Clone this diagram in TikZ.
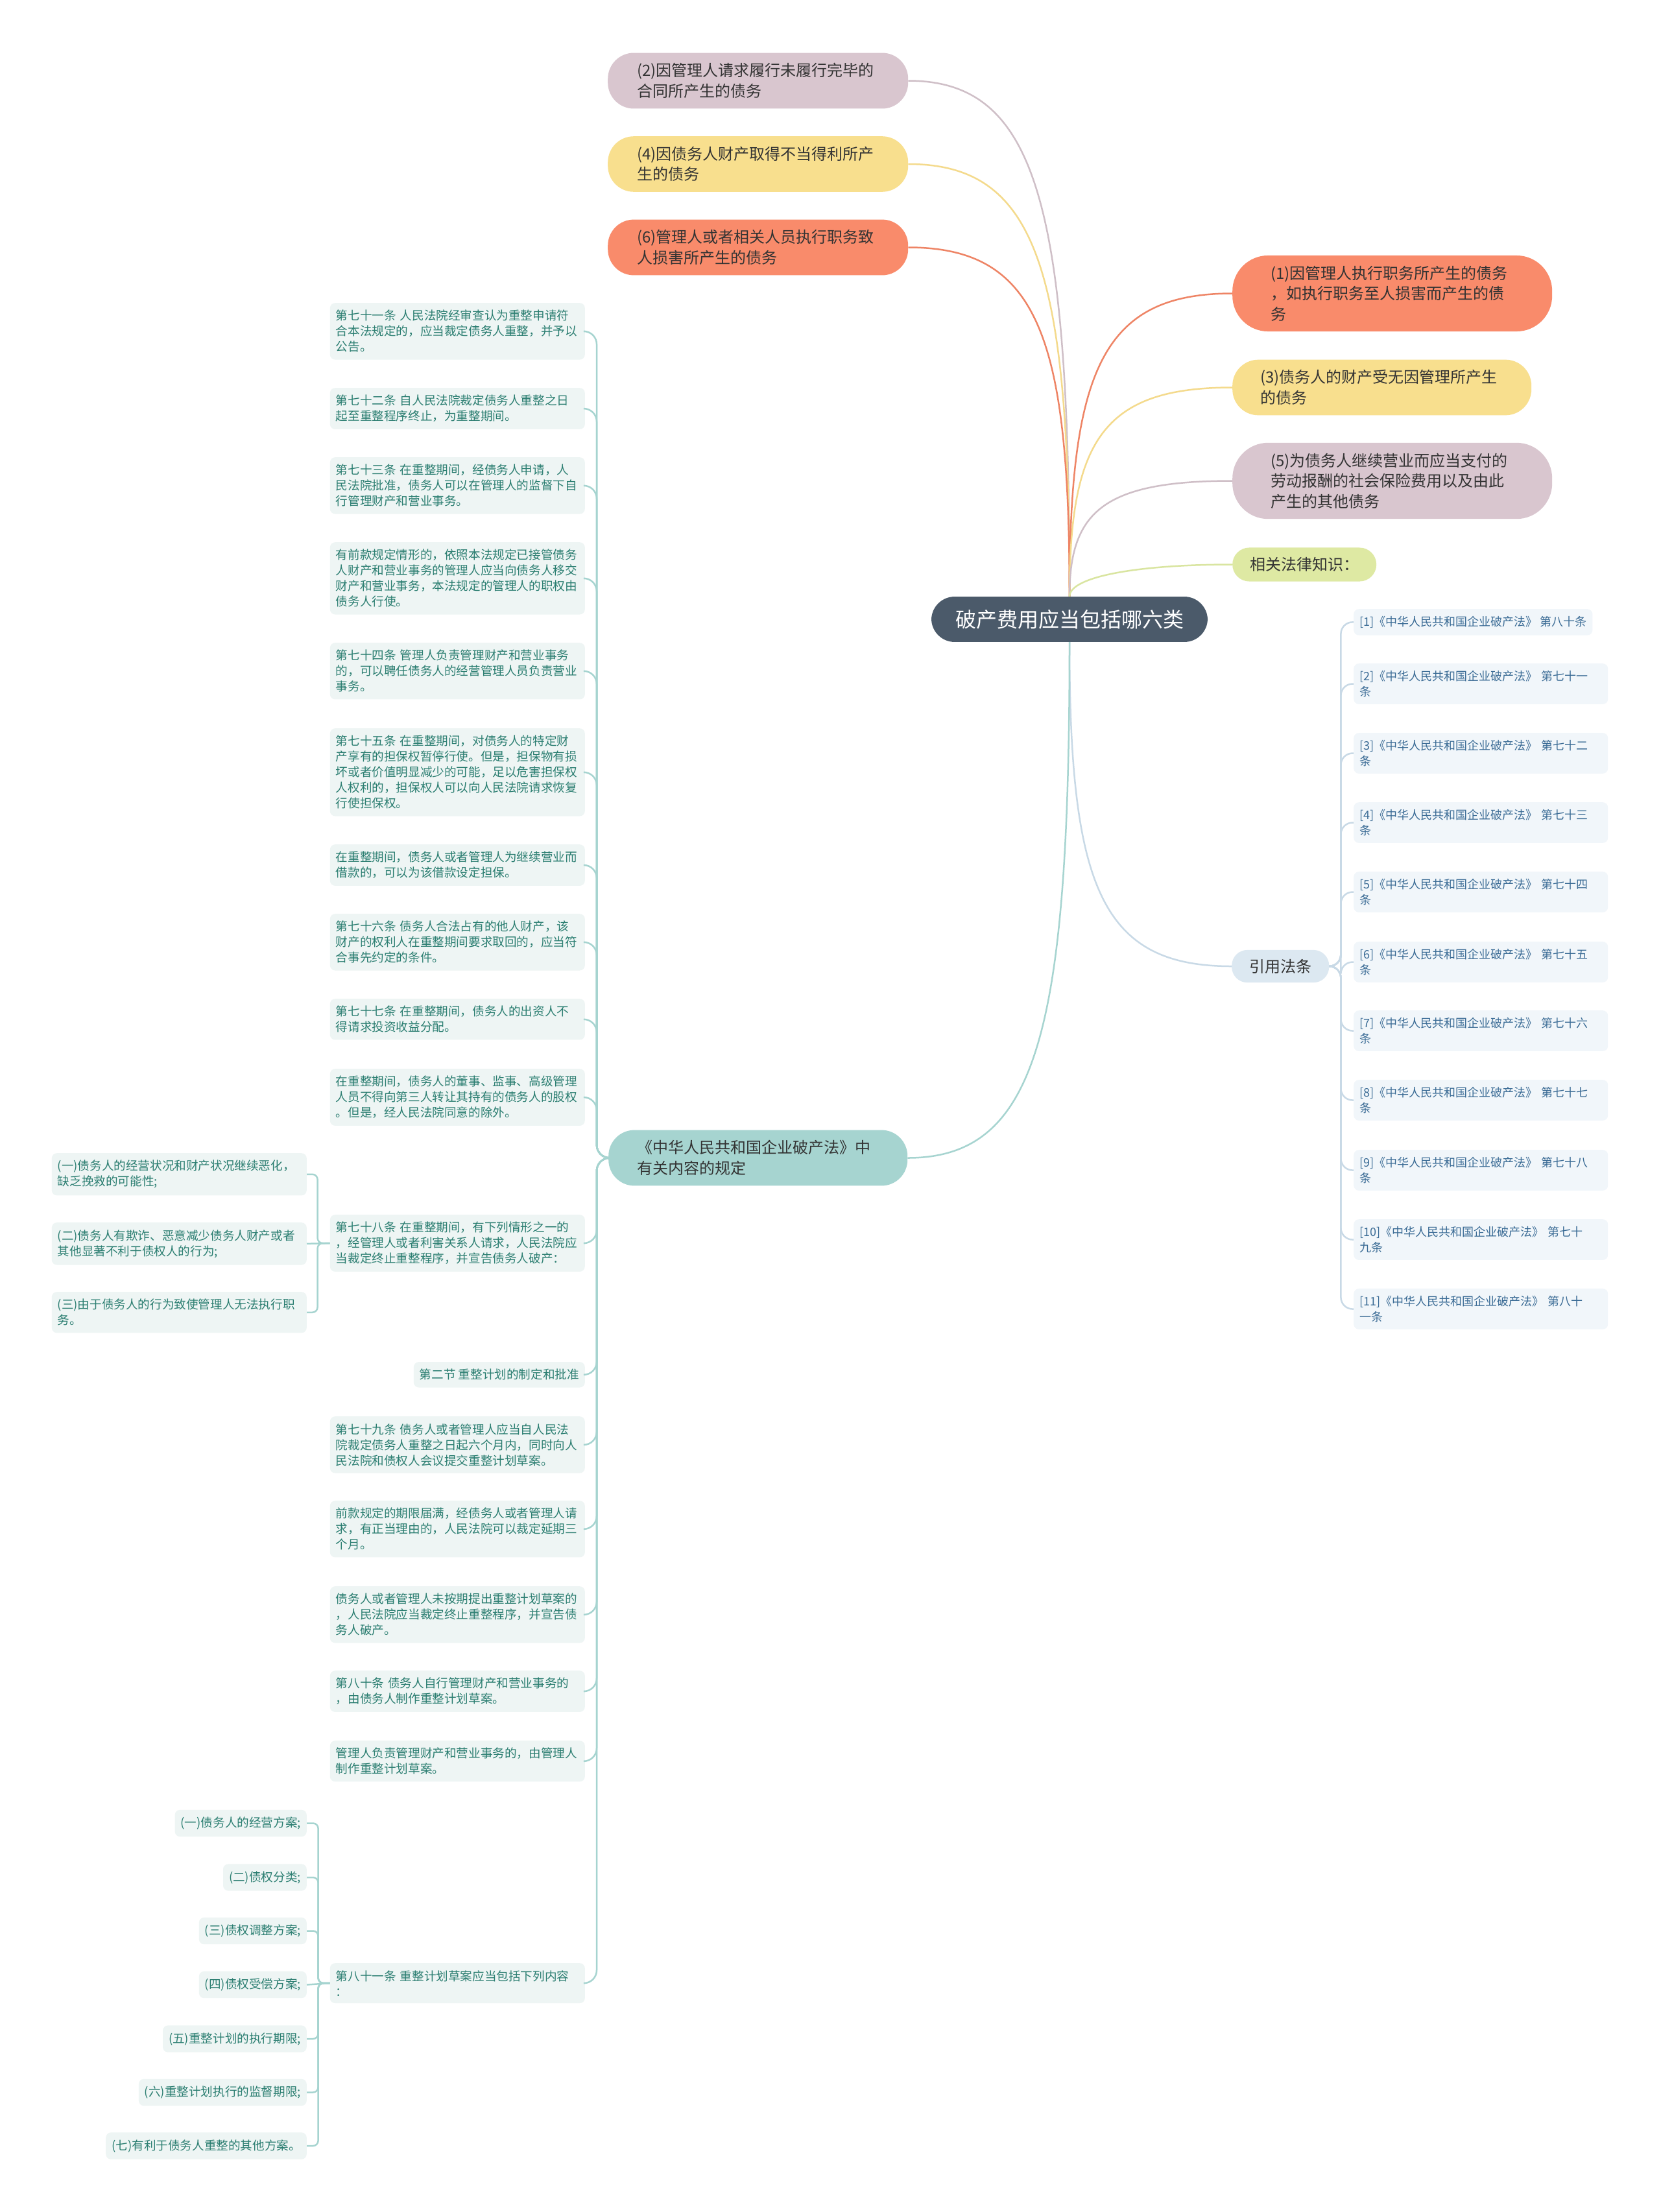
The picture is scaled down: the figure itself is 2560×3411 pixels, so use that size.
\documentclass[tikz,border=0pt]{standalone}
\usepackage{fontspec}
\setmainfont{Noto Sans CJK SC}
\usetikzlibrary{positioning,calc}

\definecolor{rootfill}{HTML}{4B5A6A}
\definecolor{orangefill}{HTML}{F98B6B}
\definecolor{orangeline}{HTML}{EE8465}
\definecolor{yellowfill}{HTML}{F8DF8E}
\definecolor{yellowline}{HTML}{F4DA8C}
\definecolor{mauvefill}{HTML}{D9C6CF}
\definecolor{mauveline}{HTML}{CFBFC7}
\definecolor{greenfill}{HTML}{DEE9A3}
\definecolor{greenline}{HTML}{D9E5A0}
\definecolor{tealfill}{HTML}{A6D4D0}
\definecolor{tealline}{HTML}{A6D4D0}
\definecolor{citefill}{HTML}{DCE8F1}
\definecolor{citeline}{HTML}{C8D9E6}
\definecolor{leaffill}{HTML}{EEF5F4}
\definecolor{leaftext}{HTML}{2B7E71}
\definecolor{reffill}{HTML}{F1F6FA}
\definecolor{reftext}{HTML}{3A6B95}
\definecolor{topictext}{HTML}{333333}

\begin{document}
\begin{tikzpicture}[x=1pt,y=-1pt,
  rootnode/.style={fill=rootfill,text=white,rounded corners=36pt,inner xsep=37pt,inner ysep=20pt,font=\fontsize{32}{38}\selectfont},
  topic/.style={text=topictext,align=left,inner ysep=16pt,font=\fontsize{24}{31.5}\selectfont},
  leafbox/.style={fill=leaffill,text=leaftext,rounded corners=8pt,align=left,inner xsep=9pt,inner ysep=11pt,font=\fontsize{18.6}{24}\selectfont},
  leaf/.style={leafbox,text width=375pt,anchor=north east},
  refbox/.style={fill=reffill,text=reftext,rounded corners=8pt,align=left,inner xsep=9pt,inner ysep=11pt,font=\fontsize{18}{24}\selectfont,anchor=north west},
  ref/.style={refbox,text width=374pt},
  branch/.style={line width=2.5pt},
  twig/.style={line width=2.5pt,tealline,rounded corners=20pt},
  citetwig/.style={line width=2.5pt,citeline,rounded corners=18pt}]
\fill[white] (0,0) rectangle (2560,3411);
\useasboundingbox (0,0) rectangle (2560,3411);

% centre and main topics
\node (root) [rootnode] at (1649,955) {破产费用应当包括哪六类};
\node (t2) [topic,fill=mauvefill,anchor=west,text width=373pt,inner xsep=45pt,rounded corners=40pt] at (937,124.5) {(2)因管理人请求履行未履行完毕的\\合同所产生的债务};
\node (t4) [topic,fill=yellowfill,anchor=west,text width=373pt,inner xsep=45pt,rounded corners=40pt] at (937,253) {(4)因债务人财产取得不当得利所产\\生的债务};
\node (t6) [topic,fill=orangefill,anchor=west,text width=373pt,inner xsep=45pt,rounded corners=40pt] at (937,381.5) {(6)管理人或者相关人员执行职务致\\人损害所产生的债务};
\node (t1) [topic,fill=orangefill,anchor=west,text width=375pt,inner xsep=59pt,rounded corners=55pt] at (1900,452.5) {(1)因管理人执行职务所产生的债务\\，如执行职务至人损害而产生的债\\务};
\node (t3) [topic,fill=yellowfill,anchor=west,text width=375pt,inner xsep=43pt,rounded corners=40pt] at (1900,597.5) {(3)债务人的财产受无因管理所产生\\的债务};
\node (t5) [topic,fill=mauvefill,anchor=west,text width=375pt,inner xsep=59pt,rounded corners=55pt] at (1900,741.5) {(5)为债务人继续营业而应当支付的\\劳动报酬的社会保险费用以及由此\\产生的其他债务};
\node (know) [topic,fill=greenfill,anchor=west,inner xsep=27pt,inner ysep=15pt,rounded corners=26pt] at (1900,870.5) {相关法律知识：};
\node (cite) [topic,fill=citefill,anchor=west,inner xsep=27pt,inner ysep=14pt,rounded corners=24pt] at (1899,1490) {引用法条};
\node (law) [topic,fill=tealfill,anchor=west,text width=373pt,inner xsep=44pt,rounded corners=40pt] at (938,1785.5) {《中华人民共和国企业破产法》中\\有关内容的规定};

\draw[branch,mauveline] (root.north) .. controls +(0,-600) and +(200,0) .. (t2.east);
\draw[branch,yellowline] (root.north) .. controls +(0,-500) and +(200,0) .. (t4.east);
\draw[branch,orangeline] (root.north) .. controls +(0,-400) and +(200,0) .. (t6.east);
\draw[branch,orangeline] (root.north) .. controls +(0,-350) and +(-200,0) .. (t1.west);
\draw[branch,yellowline] (root.north) .. controls +(0,-240) and +(-200,0) .. (t3.west);
\draw[branch,mauveline] (root.north) .. controls +(0,-130) and +(-200,0) .. (t5.west);
\draw[branch,greenline] (root.north) .. controls +(0,-30) and +(-150,0) .. (know.west);
\draw[branch,citeline] (root.south) .. controls +(0,380) and +(-200,0) .. (cite.west);
\draw[branch,tealline] (root.south) .. controls +(0,600) and +(200,0) .. (law.east);

% cited articles
\node (r1) [refbox] at (2087,939) {[1]《中华人民共和国企业破产法》 第八十条};
\node (r2) [ref] at (2087,1023) {[2]《中华人民共和国企业破产法》 第七十一\\条};
\node (r3) [ref] at (2087,1130) {[3]《中华人民共和国企业破产法》 第七十二\\条};
\node (r4) [ref] at (2087,1237) {[4]《中华人民共和国企业破产法》 第七十三\\条};
\node (r5) [ref] at (2087,1344) {[5]《中华人民共和国企业破产法》 第七十四\\条};
\node (r6) [ref] at (2087,1452) {[6]《中华人民共和国企业破产法》 第七十五\\条};
\node (r7) [ref] at (2087,1558) {[7]《中华人民共和国企业破产法》 第七十六\\条};
\node (r8) [ref] at (2087,1665) {[8]《中华人民共和国企业破产法》 第七十七\\条};
\node (r9) [ref] at (2087,1773) {[9]《中华人民共和国企业破产法》 第七十八\\条};
\node (r10) [ref] at (2087,1880) {[10]《中华人民共和国企业破产法》 第七十\\九条};
\node (r11) [ref] at (2087,1987) {[11]《中华人民共和国企业破产法》 第八十\\一条};

\draw[citetwig] (cite.east) -- ++(18,0) |- (r1.west);
\draw[citetwig] (cite.east) -- ++(18,0) |- (r2.west);
\draw[citetwig] (cite.east) -- ++(18,0) |- (r3.west);
\draw[citetwig] (cite.east) -- ++(18,0) |- (r4.west);
\draw[citetwig] (cite.east) -- ++(18,0) |- (r5.west);
\draw[citetwig] (cite.east) -- ++(18,0) |- (r6.west);
\draw[citetwig] (cite.east) -- ++(18,0) |- (r7.west);
\draw[citetwig] (cite.east) -- ++(18,0) |- (r8.west);
\draw[citetwig] (cite.east) -- ++(18,0) |- (r9.west);
\draw[citetwig] (cite.east) -- ++(18,0) |- (r10.west);
\draw[citetwig] (cite.east) -- ++(18,0) |- (r11.west);

% articles of the law
\node (a71) [leaf] at (902,467) {第七十一条 人民法院经审查认为重整申请符\\合本法规定的，应当裁定债务人重整，并予以\\公告。};
\node (a72) [leaf] at (902,598) {第七十二条 自人民法院裁定债务人重整之日\\起至重整程序终止，为重整期间。};
\node (a73) [leaf] at (902,705) {第七十三条 在重整期间，经债务人申请，人\\民法院批准，债务人可以在管理人的监督下自\\行管理财产和营业事务。};
\node (a73b) [leaf] at (902,836) {有前款规定情形的，依照本法规定已接管债务\\人财产和营业事务的管理人应当向债务人移交\\财产和营业事务，本法规定的管理人的职权由\\债务人行使。};
\node (a74) [leaf] at (902,991) {第七十四条 管理人负责管理财产和营业事务\\的，可以聘任债务人的经营管理人员负责营业\\事务。};
\node (a75) [leaf] at (902,1123) {第七十五条 在重整期间，对债务人的特定财\\产享有的担保权暂停行使。但是，担保物有损\\坏或者价值明显减少的可能，足以危害担保权\\人权利的，担保权人可以向人民法院请求恢复\\行使担保权。};
\node (a75b) [leaf] at (902,1302) {在重整期间，债务人或者管理人为继续营业而\\借款的，可以为该借款设定担保。};
\node (a76) [leaf] at (902,1409) {第七十六条 债务人合法占有的他人财产，该\\财产的权利人在重整期间要求取回的，应当符\\合事先约定的条件。};
\node (a77) [leaf] at (902,1540) {第七十七条 在重整期间，债务人的出资人不\\得请求投资收益分配。};
\node (a77b) [leaf] at (902,1648) {在重整期间，债务人的董事、监事、高级管理\\人员不得向第三人转让其持有的债务人的股权\\。但是，经人民法院同意的除外。};
\node (a78) [leaf] at (902,1873) {第七十八条 在重整期间，有下列情形之一的\\，经管理人或者利害关系人请求，人民法院应\\当裁定终止重整程序，并宣告债务人破产：};
\node (sec2) [leafbox,anchor=north east] at (902,2100) {第二节 重整计划的制定和批准};
\node (a79) [leaf] at (902,2184) {第七十九条 债务人或者管理人应当自人民法\\院裁定债务人重整之日起六个月内，同时向人\\民法院和债权人会议提交重整计划草案。};
\node (a79b) [leaf] at (902,2314) {前款规定的期限届满，经债务人或者管理人请\\求，有正当理由的，人民法院可以裁定延期三\\个月。};
\node (a79c) [leaf] at (902,2446) {债务人或者管理人未按期提出重整计划草案的\\，人民法院应当裁定终止重整程序，并宣告债\\务人破产。};
\node (a80) [leaf] at (902,2576) {第八十条 债务人自行管理财产和营业事务的\\，由债务人制作重整计划草案。};
\node (a80b) [leaf] at (902,2684) {管理人负责管理财产和营业事务的，由管理人\\制作重整计划草案。};
\node (a81) [leaf] at (902,3027) {第八十一条 重整计划草案应当包括下列内容\\：};

\draw[twig] (law.west) -- ++(-18,0) |- (a71.east);
\draw[twig] (law.west) -- ++(-18,0) |- (a72.east);
\draw[twig] (law.west) -- ++(-18,0) |- (a73.east);
\draw[twig] (law.west) -- ++(-18,0) |- (a73b.east);
\draw[twig] (law.west) -- ++(-18,0) |- (a74.east);
\draw[twig] (law.west) -- ++(-18,0) |- (a75.east);
\draw[twig] (law.west) -- ++(-18,0) |- (a75b.east);
\draw[twig] (law.west) -- ++(-18,0) |- (a76.east);
\draw[twig] (law.west) -- ++(-18,0) |- (a77.east);
\draw[twig] (law.west) -- ++(-18,0) |- (a77b.east);
\draw[twig] (law.west) -- ++(-18,0) |- (a78.east);
\draw[twig] (law.west) -- ++(-18,0) |- (sec2.east);
\draw[twig] (law.west) -- ++(-18,0) |- (a79.east);
\draw[twig] (law.west) -- ++(-18,0) |- (a79b.east);
\draw[twig] (law.west) -- ++(-18,0) |- (a79c.east);
\draw[twig] (law.west) -- ++(-18,0) |- (a80.east);
\draw[twig] (law.west) -- ++(-18,0) |- (a80b.east);
\draw[twig] (law.west) -- ++(-18,0) |- (a81.east);

% items of article 78
\node (b1) [leaf] at (473,1778) {(一)债务人的经营状况和财产状况继续恶化，\\缺乏挽救的可能性;};
\node (b2) [leaf] at (473,1885) {(二)债务人有欺诈、恶意减少债务人财产或者\\其他显著不利于债权人的行为;};
\node (b3) [leaf] at (473,1992) {(三)由于债务人的行为致使管理人无法执行职\\务。};
\draw[twig,rounded corners=8pt] (a78.west) -- ++(-19,0) |- (b1.east);
\draw[twig] (a78.west) -- (b2.east);
\draw[twig,rounded corners=8pt] (a78.west) -- ++(-19,0) |- (b3.east);

% items of article 81
\node (p1) [leafbox,anchor=east] at (473,2811.5) {(一)债务人的经营方案;};
\node (p2) [leafbox,anchor=east] at (473,2895) {(二)债权分类;};
\node (p3) [leafbox,anchor=east] at (473,2977.5) {(三)债权调整方案;};
\node (p4) [leafbox,anchor=east] at (473,3060.5) {(四)债权受偿方案;};
\node (p5) [leafbox,anchor=east] at (473,3144) {(五)重整计划的执行期限;};
\node (p6) [leafbox,anchor=east] at (473,3226.5) {(六)重整计划执行的监督期限;};
\node (p7) [leafbox,anchor=east] at (473,3309) {(七)有利于债务人重整的其他方案。};
\draw[twig,rounded corners=8pt] (a81.west) -- ++(-18,0) |- (p1.east);
\draw[twig,rounded corners=8pt] (a81.west) -- ++(-18,0) |- (p2.east);
\draw[twig,rounded corners=8pt] (a81.west) -- ++(-18,0) |- (p3.east);
\draw[twig] (a81.west) -- (p4.east);
\draw[twig,rounded corners=8pt] (a81.west) -- ++(-18,0) |- (p5.east);
\draw[twig,rounded corners=8pt] (a81.west) -- ++(-18,0) |- (p6.east);
\draw[twig,rounded corners=8pt] (a81.west) -- ++(-18,0) |- (p7.east);
\end{tikzpicture}
\end{document}
